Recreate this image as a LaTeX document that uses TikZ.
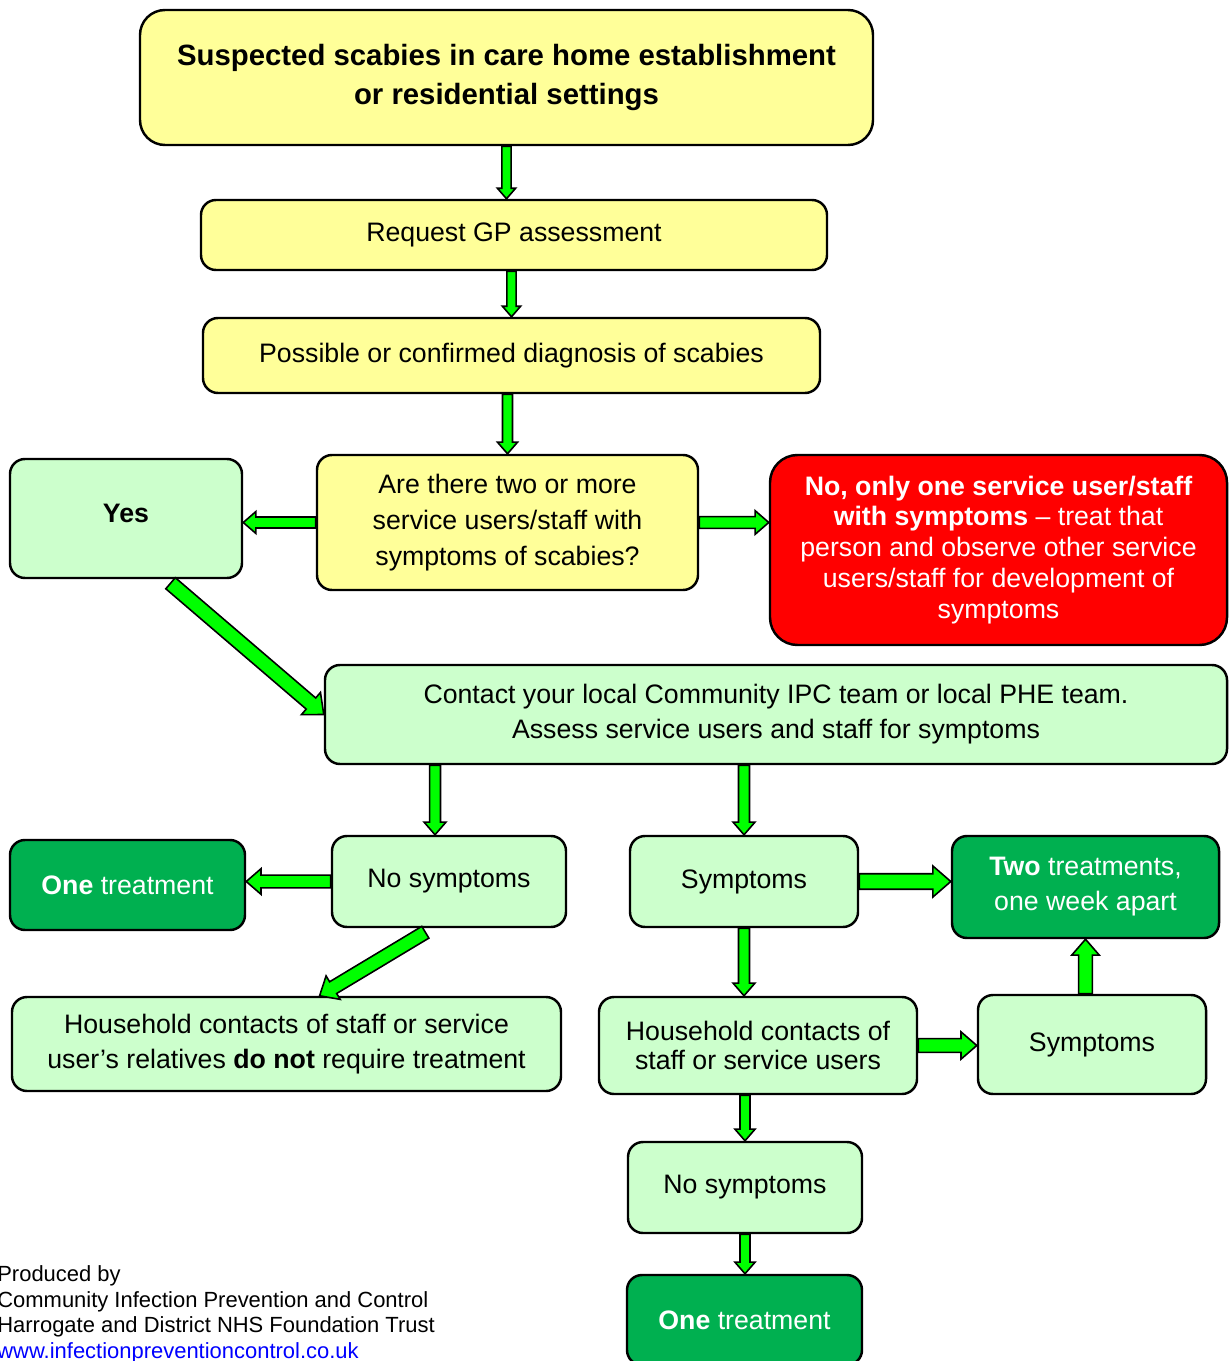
\documentclass[tikz,border=0pt]{standalone}
\usepackage{fontspec}
\setmainfont{Liberation Sans}
\usetikzlibrary{calc}

\definecolor{boxyellow}{HTML}{FFFF99}
\definecolor{boxgreen}{HTML}{CCFFCC}
\definecolor{darkgreen}{HTML}{00B050}
\definecolor{arrowgreen}{HTML}{00FF00}
\definecolor{alertred}{HTML}{FF0000}
\definecolor{linkblue}{HTML}{0000FF}

% block arrow: [size]{from}{to}
\newcommand{\blockarrow}[3][1]{%
  \coordinate (ba-s) at (#2);
  \coordinate (ba-e) at (#3);
  \coordinate (ba-b) at ($(ba-e)!#1*6pt!(ba-s)$);
  \filldraw[arrowbody] ($(ba-s)!#1*2.6pt!90:(ba-e)$) -- ($(ba-b)!#1*2.6pt!-90:(ba-s)$)
    -- ($(ba-b)!#1*5.2pt!-90:(ba-s)$) -- (ba-e) -- ($(ba-b)!#1*5.2pt!90:(ba-s)$)
    -- ($(ba-b)!#1*2.6pt!90:(ba-s)$) -- ($(ba-s)!#1*2.6pt!-90:(ba-e)$) -- cycle;
}

\begin{document}
\begin{tikzpicture}[x=0.02cm,y=-0.02cm,
    box/.style={draw,line width=1.4pt,rounded corners=0.3cm,align=center,inner sep=0pt,
      font=\fontsize{15.2}{20}\selectfont},
    boxsize/.style 2 args={minimum width=#1*0.02cm,minimum height=#2*0.02cm},
    yellowbox/.style={box,fill=boxyellow},
    greenbox/.style={box,fill=boxgreen},
    treatbox/.style={box,fill=darkgreen,text=white},
    arrowbody/.style={draw=black,line width=0.9pt,fill=arrowgreen,line join=miter}]
    \useasboundingbox (0,0) rectangle (1229,1361);

    \node[yellowbox,boxsize={733}{135},rounded corners=0.5cm,
      font=\fontsize{16.7}{22}\selectfont\bfseries] (top) at (506.5,77.5)
      {Suspected scabies in care home establishment\\or residential settings};
    \node[yellowbox,boxsize={626}{70}] (gp) at (514,235) {Request GP assessment};
    \node[yellowbox,boxsize={617}{75}] (diag) at (511.5,355.5) {Possible or confirmed diagnosis of scabies};
    \node[yellowbox,boxsize={381}{135},font=\fontsize{15.2}{20.5}\selectfont] (quest) at (507.5,522.5)
      {Are there two or more\\service users/staff with\\symptoms of scabies?};
    \node[greenbox,boxsize={232}{119}] (yes) at (126,518.5) {\raisebox{6pt}{\textbf{Yes}}};
    \node[box,fill=alertred,text=white,boxsize={457}{190},rounded corners=0.55cm,
      font=\fontsize{15.2}{17.6}\selectfont] (red) at (998.5,550)
      {\textbf{No, only one service user/staff}\\\textbf{with symptoms} -- treat that\\person and observe other service\\users/staff for development of\\symptoms};
    \node[greenbox,boxsize={902}{99}] (contact) at (776,714.5)
      {Contact your local Community IPC team or local PHE team.\\Assess service users and staff for symptoms};

    \node[treatbox,boxsize={235}{90}] (one1) at (127.5,885) {\textbf{One} treatment};
    \node[greenbox,boxsize={234}{91}] (nosym1) at (449,881.5) {No symptoms};
    \node[greenbox,boxsize={228}{91}] (sym1) at (744,881.5) {Symptoms};
    \node[treatbox,boxsize={267}{102}] (two) at (1085.5,887) {\textbf{Two} treatments,\\one week apart};
    \node[greenbox,boxsize={549}{94}] (hh1) at (286.5,1044)
      {Household contacts of staff or service\\user’s relatives \textbf{do not} require treatment};
    \node[greenbox,boxsize={318}{97},font=\fontsize{15.2}{17}\selectfont] (hh2) at (758,1045.5)
      {Household contacts of\\staff or service users};
    \node[greenbox,boxsize={228}{99}] (sym2) at (1092,1044.5) {Symptoms};
    \node[greenbox,boxsize={234}{91}] (nosym2) at (745,1187.5) {No symptoms};
    \node[treatbox,boxsize={235}{90}] (one2) at (744.5,1320) {\textbf{One} treatment};

    \node[anchor=west,align=left,inner sep=0pt,font=\fontsize{12.5}{14.5}\selectfont] (credit) at (-3,1316)
      {Produced by\\Community Infection Prevention and Control\\Harrogate and District NHS Foundation Trust\\
       \textcolor{linkblue}{\underline{www.infectionpreventioncontrol.co.uk}}};

    \blockarrow{top.south}{top.south |- gp.north}
    \blockarrow{diag.north |- gp.south}{diag.north}
    \blockarrow[1.1]{quest.north |- diag.south}{quest.north}
    \blockarrow[1.2]{quest.west}{quest.west -| yes.east}
    \blockarrow[1.3]{quest.east}{quest.east -| red.west}
    \blockarrow[1.6]{$(yes.south west)!0.69!(yes.south east)+(0,4)$}{contact.west}
    \blockarrow[1.2]{$(contact.south west)!0.123!(contact.south east)$}{nosym1.north -| ba-s}
    \blockarrow[1.2]{sym1.north |- contact.south}{sym1.north}
    \blockarrow[1.4]{nosym1.west}{nosym1.west -| one1.east}
    \blockarrow[1.5]{$(nosym1.south west)!0.4!(nosym1.south east)+(0,4)$}{$(hh1.north west)!0.56!(hh1.north east)$}
    \blockarrow[1.7]{sym1.east}{sym1.east -| two.west}
    \blockarrow[1.2]{sym1.south}{sym1.south |- hh2.north}
    \blockarrow[1.5]{hh2.east}{hh2.east -| sym2.west}
    \blockarrow[1.5]{two.south |- sym2.north}{two.south}
    \blockarrow[1.1]{nosym2.north |- hh2.south}{nosym2.north}
    \blockarrow[1.1]{nosym2.south}{nosym2.south |- one2.north}
\end{tikzpicture}
\end{document}
